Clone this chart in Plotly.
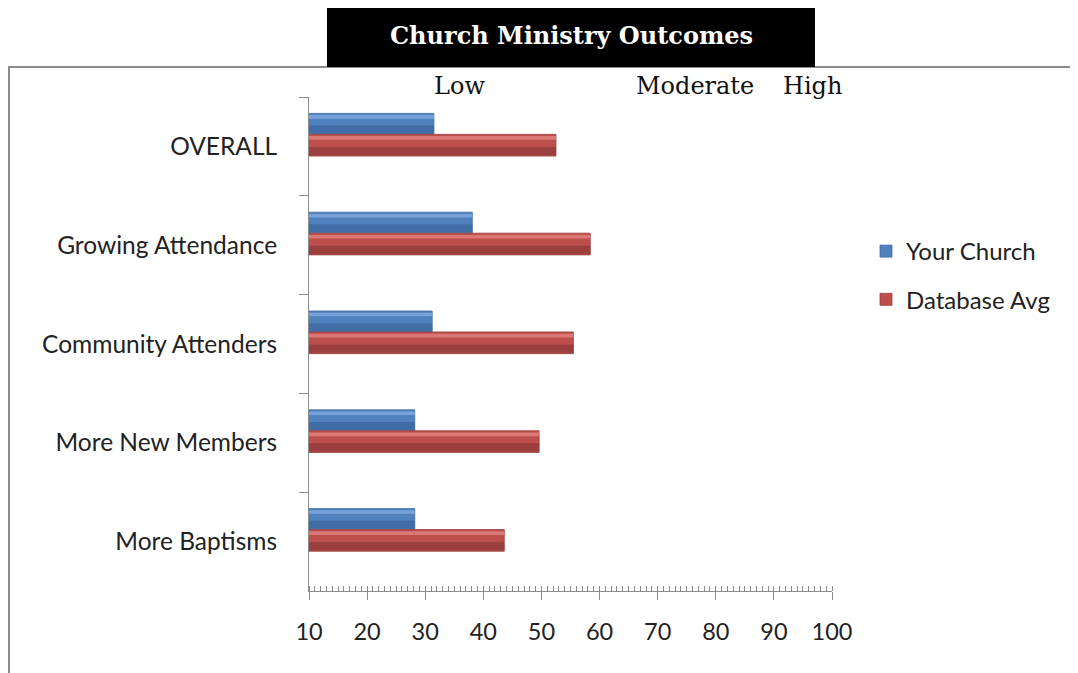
import plotly.graph_objects as go

categories = ["OVERALL", "Growing Attendance", "Community Attenders", "More New Members", "More Baptisms"]
your_church = [31.5, 38.1, 31.2, 28.2, 28.2]
database_avg = [52.5, 58.4, 55.5, 49.6, 43.6]
series_names = ["Your Church", "Database Avg"]
x_ticks = [10, 20, 30, 40, 50, 60, 70, 80, 90, 100]
level_labels = ["Low", "Moderate", "High"]
title_text = "Church Ministry Outcomes"

PAGE_OFF = 8  # default body margin of the html page
W, H = 1078 - PAGE_OFF, 673 - PAGE_OFF
# plot area in page pixel coordinates
Lp, Rp, Tp, Bp = 309, 832, 97, 591


def px(x):
    return (x - Lp) / (Rp - Lp)


def py(y):
    return (Bp - y) / (Bp - Tp)


fig = go.Figure()


def add_bevel_bar(values, name, mid, dark, light, off, wid, group):
    # main body (legend entry)
    fig.add_trace(go.Bar(
        y=categories, x=values, orientation="h", name=name,
        offset=off, width=wid, legendgroup=group,
        marker=dict(color=mid, line=dict(color=dark, width=0.8)),
    ))
    # darker lower part
    fig.add_trace(go.Bar(
        y=categories, x=values, orientation="h", name=name,
        offset=off + wid * 0.58, width=wid * 0.38, legendgroup=group,
        showlegend=False, hoverinfo="skip",
        marker=dict(color=dark, line=dict(width=0)),
    ))
    # light highlight near top
    fig.add_trace(go.Bar(
        y=categories, x=values, orientation="h", name=name,
        offset=off + wid * 0.08, width=wid * 0.17, legendgroup=group,
        showlegend=False, hoverinfo="skip",
        marker=dict(color=light, line=dict(width=0)),
    ))


add_bevel_bar(your_church, series_names[0], "#4F81BD", "#406DA6", "#78A3DA", -0.334, 0.212, "a")
add_bevel_bar(database_avg, series_names[1], "#BC4E4B", "#9A3F3D", "#DB7875", -0.122, 0.220, "b")

fig.update_layout(
    width=W, height=H,
    margin=dict(l=Lp - PAGE_OFF, r=W - (Rp - PAGE_OFF), t=Tp - PAGE_OFF, b=H - (Bp - PAGE_OFF)),
    paper_bgcolor="white", plot_bgcolor="white",
    barmode="overlay",
    font=dict(family="Lato", size=20, color="#222"),
    showlegend=True,
    legend=dict(x=px(866), y=py(229), xanchor="left", yanchor="top",
                font=dict(size=24, family="Lato", color="#222"),
                tracegroupgap=14, traceorder="grouped",
                bgcolor="rgba(0,0,0,0)"),
)

fig.update_xaxes(
    range=[10, 100], tickvals=x_ticks, showgrid=False, zeroline=False,
    showline=True, linecolor="#8c8c8c", linewidth=1,
    ticks="outside", ticklen=8, tickcolor="#8c8c8c",
    minor=dict(dtick=1, ticks="inside", ticklen=5, tickcolor="#8c8c8c"),
    tickfont=dict(size=23.5, family="Lato", color="#222"),
    ticklabelstandoff=12,
)
fig.update_yaxes(
    autorange="reversed", showgrid=False, zeroline=False,
    showline=True, linecolor="#8c8c8c", linewidth=1,
    ticks="outside", tickson="boundaries", ticklen=9, tickcolor="#8c8c8c",
    tickfont=dict(size=24.5, family="Lato", color="#222"),
    ticklabelstandoff=26,
)

# outer chart frame
fig.add_shape(type="rect", xref="paper", yref="paper",
              x0=px(9), x1=px(1100), y0=py(700), y1=py(67),
              line=dict(color="#8c8c8c", width=2), fillcolor="rgba(0,0,0,0)")
# title box
fig.add_shape(type="rect", xref="paper", yref="paper",
              x0=px(327), x1=px(815), y0=py(67), y1=py(6),
              line=dict(width=0), fillcolor="black")
fig.add_annotation(xref="paper", yref="paper", x=px(571), y=py(35),
                   xanchor="center", yanchor="middle",
                   text="<b>" + title_text + "</b>", showarrow=False,
                   font=dict(family="DejaVu Serif", size=24, color="white"))

level_x = [459, 695, 812]
for lbl, lx in zip(level_labels, level_x):
    fig.add_annotation(xref="paper", yref="paper", x=px(lx), y=py(86),
                       xanchor="center", yanchor="middle",
                       text=lbl, showarrow=False,
                       font=dict(family="DejaVu Serif", size=24, color="#111"))

fig.write_html("out.html")
